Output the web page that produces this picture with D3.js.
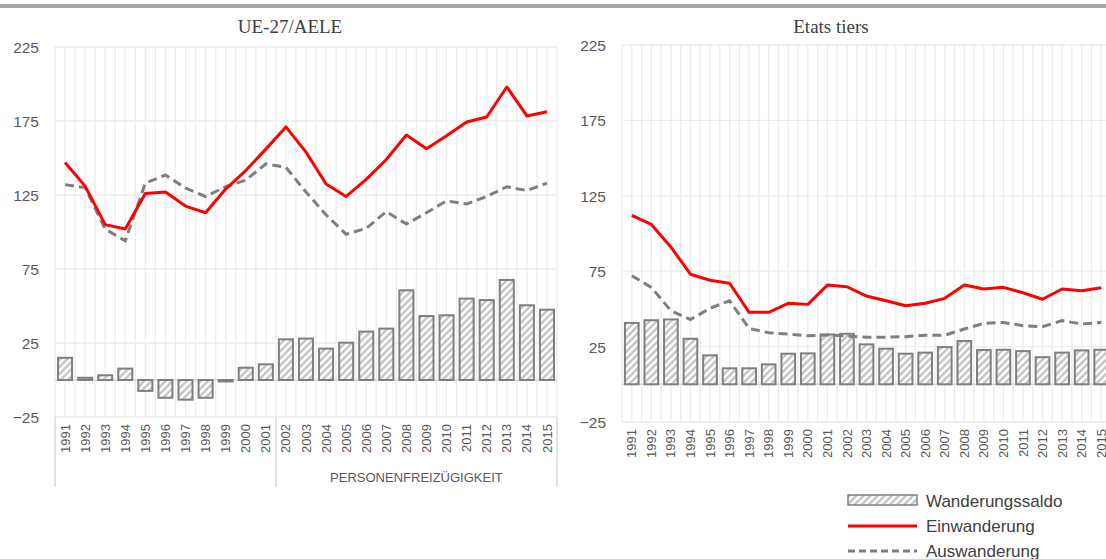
<!DOCTYPE html>
<html>
<head>
<meta charset="utf-8">
<script src="https://cdn.jsdelivr.net/npm/d3@7"></script>
<style>
  body { margin: 0; background: #fff; }
  svg { display: block; }
</style>
</head>
<body>
<div id="chart"></div>
<script>
// ==== data (thousands of persons) ====
const years = ["1991","1992","1993","1994","1995","1996","1997","1998","1999","2000",
               "2001","2002","2003","2004","2005","2006","2007","2008","2009","2010",
               "2011","2012","2013","2014","2015"];
const yTicks = [-25, 25, 75, 125, 175, 225];

// UE-27/AELE
const euSaldo = [15, 1.5, 3.2, 7.7, -7.4, -12, -13.3, -12, -1, 8.3,
                 10.6, 27.5, 28, 21.2, 25.2, 32.7, 34.7, 60.6, 43.2, 43.7,
                 55, 54, 67.6, 50.5, 47.5];
const euEin   = [147, 131, 105, 102, 126, 127, 117.5, 113, 129, 141.5,
                 156, 171, 154, 132.4, 124, 135.6, 149, 165.5, 156.3, 165,
                 174.3, 177.7, 198, 178.4, 181.3];
const euAus   = [132, 130, 102, 94, 133, 138.5, 129.7, 124, 130.6, 135,
                 146, 143.7, 127, 111.5, 98.5, 102.5, 113.7, 105.4, 113, 121,
                 119, 124, 130.6, 128, 133];

// Etats tiers
const tsSaldo = [40.7, 42.5, 43, 30.2, 19.2, 10.6, 10.6, 13.2, 20.3, 20.5,
                 33, 33.5, 26.5, 23.6, 20.3, 21, 24.7, 28.7, 22.7, 22.9,
                 22, 18, 21, 22.5, 22.9];
const tsEin   = [112, 106, 91, 73, 69, 67, 47.7, 47.7, 53.7, 53,
                 65.8, 64.7, 58.5, 55.4, 52.1, 53.7, 57, 65.8, 63.2, 64.3,
                 60.7, 56.4, 63.2, 62, 64];
const tsAus   = [72, 64.3, 48.8, 43, 50.4, 55.4, 37, 34.2, 33.3, 32.2,
                 32.7, 32, 31.2, 31.2, 31.6, 32.5, 32.5, 36.7, 40.4, 41,
                 38.9, 38.2, 42.2, 40, 41];

const panelTitles = ["UE-27/AELE", "Etats tiers"];
const groupLabel = "PERSONENFREIZÜGIGKEIT";
const legendLabels = ["Wanderungssaldo", "Einwanderung", "Auswanderung"];

// ==== styles ====
const W = 1106, H = 559;
const sans = "'Liberation Sans', Arial, sans-serif";
const serif = "'Liberation Serif', 'Times New Roman', serif";
const tickColor = "#595959";
const gridColor = "#ededed";
const redColor = "#ff0000";
const grayColor = "#7f7f7f";
const dashLine = "9,5";

const svg = d3.select("#chart").append("svg")
  .attr("width", W).attr("height", H)
  .attr("viewBox", "0 0 " + W + " " + H);

// hatch pattern for the bars
const pat = svg.append("defs").append("pattern")
  .attr("id", "hatch")
  .attr("patternUnits", "userSpaceOnUse")
  .attr("width", 5).attr("height", 5)
  .attr("patternTransform", "rotate(45)");
pat.append("rect").attr("width", 5).attr("height", 5).attr("fill", "#ffffff");
pat.append("line").attr("x1", 1.5).attr("y1", 0).attr("x2", 1.5).attr("y2", 5)
  .attr("stroke", "#bdbdbd").attr("stroke-width", 2.2);

// top band
svg.append("rect").attr("x", 0).attr("y", 4).attr("width", W).attr("height", 4)
  .attr("fill", "#a6a6a6");

function drawPanel(p){
  const x = d3.scaleBand().domain(years).range([p.x0, p.x1]).paddingInner(0.3).paddingOuter(0.15);
  const xc = d => x(d) + x.bandwidth()/2;
  const step = x.step();
  const y = d3.scaleLinear().domain([-25, 225]).range([p.yb, p.yt]);
  const g = svg.append("g");

  // vertical gridlines: band edges and band centres
  const vx = [];
  for (let i = 0; i <= years.length*2; i++) vx.push(p.x0 + i*step/2);
  g.append("g").selectAll("line").data(vx).join("line")
    .attr("x1", d => d).attr("x2", d => d)
    .attr("y1", p.yt).attr("y2", p.yb)
    .attr("stroke", gridColor).attr("stroke-width", 1.3);

  // horizontal gridlines
  g.append("g").selectAll("line").data(yTicks).join("line")
    .attr("x1", p.x0).attr("x2", p.x1)
    .attr("y1", d => y(d)).attr("y2", d => y(d))
    .attr("stroke", gridColor).attr("stroke-width", 1.3);

  // zero line
  g.append("line").attr("x1", p.x0).attr("x2", p.x1)
    .attr("y1", y(0)).attr("y2", y(0))
    .attr("stroke", "#d9d9d9").attr("stroke-width", 1.5);

  // y axis
  const yAxis = d3.axisLeft(y).tickValues(yTicks).tickSize(0).tickPadding(0);
  g.append("g").attr("transform", "translate(" + p.yLabelX + ",0)")
    .call(yAxis)
    .call(a => a.select(".domain").remove())
    .call(a => a.selectAll("text")
      .attr("font-family", sans).attr("font-size", 15.5)
      .attr("fill", tickColor).attr("dy", "0.35em"));

  // bars
  g.append("g").selectAll("rect").data(p.saldo).join("rect")
    .attr("x", (d, i) => x(years[i]))
    .attr("width", x.bandwidth())
    .attr("y", d => y(Math.max(0, d)))
    .attr("height", d => Math.abs(y(d) - y(0)))
    .attr("fill", "url(#hatch)")
    .attr("stroke", grayColor).attr("stroke-width", 2);

  // lines
  const line = d3.line().x((d, i) => xc(years[i])).y(d => y(d));
  g.append("path").datum(p.aus).attr("d", line)
    .attr("fill", "none").attr("stroke", grayColor).attr("stroke-width", 3)
    .attr("stroke-dasharray", dashLine);
  g.append("path").datum(p.ein).attr("d", line)
    .attr("fill", "none").attr("stroke", redColor).attr("stroke-width", 3)
    .attr("stroke-linejoin", "round");

  // x axis labels (rotated)
  const xAxis = d3.axisBottom(x).tickSize(0).tickPadding(0);
  g.append("g").attr("transform", "translate(0," + p.labelY + ")")
    .call(xAxis)
    .call(a => a.select(".domain").remove())
    .call(a => a.selectAll("text")
      .attr("font-family", sans).attr("font-size", 13)
      .attr("fill", tickColor)
      .attr("transform", "rotate(-90)")
      .attr("text-anchor", "end")
      .attr("x", 0).attr("y", 0).attr("dy", "0.35em"));

  // title
  g.append("text").attr("x", p.titleX).attr("y", 33)
    .attr("text-anchor", "middle")
    .attr("font-family", serif).attr("font-size", 19).attr("fill", "#404040")
    .text(p.title);

  return {x, y, g};
}

// left panel
const left = drawPanel({
  x0: 55, x1: 557, yt: 47, yb: 417, yLabelX: 39, labelY: 424, titleX: 290,
  saldo: euSaldo, ein: euEin, aus: euAus, title: panelTitles[0]
});

// grouping axis under the left panel
const sep = left.x("2002") - (left.x.step() - left.x.bandwidth())/2;
left.g.append("g").selectAll("line").data([55, sep, 557]).join("line")
  .attr("x1", d => d).attr("x2", d => d)
  .attr("y1", 417).attr("y2", 487)
  .attr("stroke", "#d9d9d9").attr("stroke-width", 1.5);
left.g.append("text").attr("x", (sep + 557)/2).attr("y", 482)
  .attr("text-anchor", "middle")
  .attr("font-family", sans).attr("font-size", 13).attr("fill", tickColor)
  .text(groupLabel);

// right panel
drawPanel({
  x0: 622, x1: 1111, yt: 45, yb: 422, yLabelX: 606, labelY: 429, titleX: 831,
  saldo: tsSaldo, ein: tsEin, aus: tsAus, title: panelTitles[1]
});

// legend
const lg = svg.append("g").attr("transform", "translate(848,0)");
lg.append("rect").attr("x", 0).attr("y", 495).attr("width", 69).attr("height", 10)
  .attr("fill", "url(#hatch)").attr("stroke", grayColor).attr("stroke-width", 1.5);
lg.append("line").attr("x1", 0).attr("x2", 69).attr("y1", 526).attr("y2", 526)
  .attr("stroke", redColor).attr("stroke-width", 3);
lg.append("line").attr("x1", 0).attr("x2", 69).attr("y1", 551).attr("y2", 551)
  .attr("stroke", grayColor).attr("stroke-width", 3).attr("stroke-dasharray", "7,4");
lg.selectAll("text.leg").data(legendLabels).join("text")
  .attr("class", "leg")
  .attr("x", 78).attr("y", (d, i) => 507 + i*25)
  .attr("font-family", sans).attr("font-size", 17).attr("fill", "#404040")
  .text(d => d);
</script>
</body>
</html>
